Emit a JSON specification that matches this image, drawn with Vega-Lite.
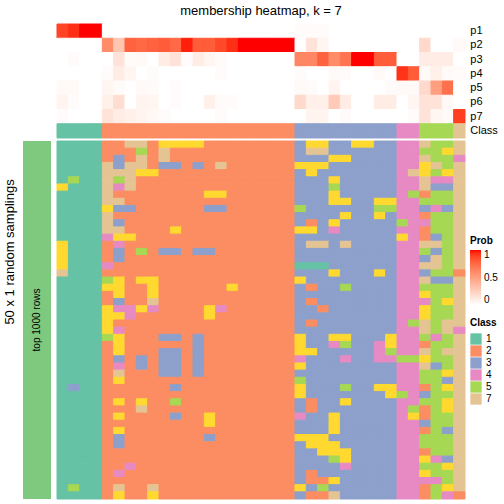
{
"$schema": "https://vega.github.io/schema/vega-lite/v6.json",
"width": 408, "height": 475,
"autosize": {"type": "none"},
"padding": {"left": 57, "top": 24, "right": 39, "bottom": 5},
"title": {"text": "membership heatmap, k = 7", "fontSize": 13, "fontWeight": "normal", "font": "Liberation Sans", "frame": "group", "anchor": "middle", "offset": 6, "color": "black"},
"config": {"view": {"stroke": null}, "font": "Liberation Sans"},
"datasets": {
"prob": [
{"p":"p1","c":0,"v":0.88},{"p":"p1","c":1,"v":0.94},{"p":"p1","c":2,"v":1},{"p":"p1","c":3,"v":1},{"p":"p1","c":4,"v":0},{"p":"p1","c":5,"v":0},{"p":"p1","c":6,"v":0},{"p":"p1","c":7,"v":0},{"p":"p1","c":8,"v":0},{"p":"p1","c":9,"v":0},{"p":"p1","c":10,"v":0},{"p":"p1","c":11,"v":0},{"p":"p1","c":12,"v":0},{"p":"p1","c":13,"v":0},{"p":"p1","c":14,"v":0},{"p":"p1","c":15,"v":0},{"p":"p1","c":16,"v":0},{"p":"p1","c":17,"v":0},{"p":"p1","c":18,"v":0},{"p":"p1","c":19,"v":0},{"p":"p1","c":20,"v":0},{"p":"p1","c":21,"v":0.02},{"p":"p1","c":22,"v":0.02},{"p":"p1","c":23,"v":0.02},{"p":"p1","c":24,"v":0},{"p":"p1","c":25,"v":0},{"p":"p1","c":26,"v":0},{"p":"p1","c":27,"v":0},{"p":"p1","c":28,"v":0},{"p":"p1","c":29,"v":0},{"p":"p1","c":30,"v":0},{"p":"p1","c":31,"v":0},{"p":"p1","c":32,"v":0},{"p":"p1","c":33,"v":0},{"p":"p1","c":34,"v":0},{"p":"p1","c":35,"v":0},
{"p":"p2","c":0,"v":0},{"p":"p2","c":1,"v":0},{"p":"p2","c":2,"v":0},{"p":"p2","c":3,"v":0},{"p":"p2","c":4,"v":0.6},{"p":"p2","c":5,"v":0.3},{"p":"p2","c":6,"v":0.78},{"p":"p2","c":7,"v":0.75},{"p":"p2","c":8,"v":0.78},{"p":"p2","c":9,"v":0.8},{"p":"p2","c":10,"v":0.75},{"p":"p2","c":11,"v":0.97},{"p":"p2","c":12,"v":0.8},{"p":"p2","c":13,"v":0.8},{"p":"p2","c":14,"v":0.87},{"p":"p2","c":15,"v":0.94},{"p":"p2","c":16,"v":1},{"p":"p2","c":17,"v":1},{"p":"p2","c":18,"v":1},{"p":"p2","c":19,"v":1},{"p":"p2","c":20,"v":1},{"p":"p2","c":21,"v":0},{"p":"p2","c":22,"v":0.15},{"p":"p2","c":23,"v":0.05},{"p":"p2","c":24,"v":0},{"p":"p2","c":25,"v":0},{"p":"p2","c":26,"v":0},{"p":"p2","c":27,"v":0},{"p":"p2","c":28,"v":0},{"p":"p2","c":29,"v":0},{"p":"p2","c":30,"v":0},{"p":"p2","c":31,"v":0},{"p":"p2","c":32,"v":0.2},{"p":"p2","c":33,"v":0},{"p":"p2","c":34,"v":0},{"p":"p2","c":35,"v":0.03},
{"p":"p3","c":0,"v":0},{"p":"p3","c":1,"v":0.02},{"p":"p3","c":2,"v":0},{"p":"p3","c":3,"v":0},{"p":"p3","c":4,"v":0},{"p":"p3","c":5,"v":0.15},{"p":"p3","c":6,"v":0.02},{"p":"p3","c":7,"v":0.03},{"p":"p3","c":8,"v":0},{"p":"p3","c":9,"v":0.1},{"p":"p3","c":10,"v":0.15},{"p":"p3","c":11,"v":0.02},{"p":"p3","c":12,"v":0.1},{"p":"p3","c":13,"v":0.05},{"p":"p3","c":14,"v":0.02},{"p":"p3","c":15,"v":0},{"p":"p3","c":16,"v":0},{"p":"p3","c":17,"v":0},{"p":"p3","c":18,"v":0},{"p":"p3","c":19,"v":0},{"p":"p3","c":20,"v":0},{"p":"p3","c":21,"v":0.62},{"p":"p3","c":22,"v":0.62},{"p":"p3","c":23,"v":0.78},{"p":"p3","c":24,"v":0.6},{"p":"p3","c":25,"v":0.7},{"p":"p3","c":26,"v":1},{"p":"p3","c":27,"v":1},{"p":"p3","c":28,"v":0.8},{"p":"p3","c":29,"v":0.8},{"p":"p3","c":30,"v":0},{"p":"p3","c":31,"v":0},{"p":"p3","c":32,"v":0.1},{"p":"p3","c":33,"v":0.1},{"p":"p3","c":34,"v":0.1},{"p":"p3","c":35,"v":0},
{"p":"p4","c":0,"v":0},{"p":"p4","c":1,"v":0},{"p":"p4","c":2,"v":0},{"p":"p4","c":3,"v":0},{"p":"p4","c":4,"v":0.02},{"p":"p4","c":5,"v":0.1},{"p":"p4","c":6,"v":0.05},{"p":"p4","c":7,"v":0},{"p":"p4","c":8,"v":0.02},{"p":"p4","c":9,"v":0},{"p":"p4","c":10,"v":0},{"p":"p4","c":11,"v":0},{"p":"p4","c":12,"v":0},{"p":"p4","c":13,"v":0},{"p":"p4","c":14,"v":0.02},{"p":"p4","c":15,"v":0},{"p":"p4","c":16,"v":0},{"p":"p4","c":17,"v":0},{"p":"p4","c":18,"v":0},{"p":"p4","c":19,"v":0},{"p":"p4","c":20,"v":0},{"p":"p4","c":21,"v":0.02},{"p":"p4","c":22,"v":0},{"p":"p4","c":23,"v":0},{"p":"p4","c":24,"v":0.03},{"p":"p4","c":25,"v":0.02},{"p":"p4","c":26,"v":0},{"p":"p4","c":27,"v":0},{"p":"p4","c":28,"v":0.03},{"p":"p4","c":29,"v":0},{"p":"p4","c":30,"v":0.93},{"p":"p4","c":31,"v":0.8},{"p":"p4","c":32,"v":0.03},{"p":"p4","c":33,"v":0.08},{"p":"p4","c":34,"v":0.03},{"p":"p4","c":35,"v":0.02},
{"p":"p5","c":0,"v":0.03},{"p":"p5","c":1,"v":0.03},{"p":"p5","c":2,"v":0},{"p":"p5","c":3,"v":0},{"p":"p5","c":4,"v":0.05},{"p":"p5","c":5,"v":0.02},{"p":"p5","c":6,"v":0},{"p":"p5","c":7,"v":0.03},{"p":"p5","c":8,"v":0.02},{"p":"p5","c":9,"v":0},{"p":"p5","c":10,"v":0.02},{"p":"p5","c":11,"v":0},{"p":"p5","c":12,"v":0},{"p":"p5","c":13,"v":0},{"p":"p5","c":14,"v":0},{"p":"p5","c":15,"v":0},{"p":"p5","c":16,"v":0},{"p":"p5","c":17,"v":0},{"p":"p5","c":18,"v":0},{"p":"p5","c":19,"v":0},{"p":"p5","c":20,"v":0},{"p":"p5","c":21,"v":0.03},{"p":"p5","c":22,"v":0.02},{"p":"p5","c":23,"v":0},{"p":"p5","c":24,"v":0.06},{"p":"p5","c":25,"v":0},{"p":"p5","c":26,"v":0},{"p":"p5","c":27,"v":0},{"p":"p5","c":28,"v":0},{"p":"p5","c":29,"v":0.02},{"p":"p5","c":30,"v":0.03},{"p":"p5","c":31,"v":0.03},{"p":"p5","c":32,"v":0.2},{"p":"p5","c":33,"v":0.5},{"p":"p5","c":34,"v":0.72},{"p":"p5","c":35,"v":0},
{"p":"p6","c":0,"v":0.06},{"p":"p6","c":1,"v":0.02},{"p":"p6","c":2,"v":0},{"p":"p6","c":3,"v":0},{"p":"p6","c":4,"v":0.08},{"p":"p6","c":5,"v":0.18},{"p":"p6","c":6,"v":0},{"p":"p6","c":7,"v":0.06},{"p":"p6","c":8,"v":0.05},{"p":"p6","c":9,"v":0},{"p":"p6","c":10,"v":0.02},{"p":"p6","c":11,"v":0},{"p":"p6","c":12,"v":0},{"p":"p6","c":13,"v":0.08},{"p":"p6","c":14,"v":0.02},{"p":"p6","c":15,"v":0.02},{"p":"p6","c":16,"v":0},{"p":"p6","c":17,"v":0},{"p":"p6","c":18,"v":0},{"p":"p6","c":19,"v":0},{"p":"p6","c":20,"v":0},{"p":"p6","c":21,"v":0.2},{"p":"p6","c":22,"v":0.08},{"p":"p6","c":23,"v":0.08},{"p":"p6","c":24,"v":0.28},{"p":"p6","c":25,"v":0.1},{"p":"p6","c":26,"v":0},{"p":"p6","c":27,"v":0},{"p":"p6","c":28,"v":0.1},{"p":"p6","c":29,"v":0.1},{"p":"p6","c":30,"v":0},{"p":"p6","c":31,"v":0.05},{"p":"p6","c":32,"v":0.15},{"p":"p6","c":33,"v":0.15},{"p":"p6","c":34,"v":0.03},{"p":"p6","c":35,"v":0},
{"p":"p7","c":0,"v":0.02},{"p":"p7","c":1,"v":0},{"p":"p7","c":2,"v":0},{"p":"p7","c":3,"v":0},{"p":"p7","c":4,"v":0.15},{"p":"p7","c":5,"v":0.1},{"p":"p7","c":6,"v":0.08},{"p":"p7","c":7,"v":0.06},{"p":"p7","c":8,"v":0.04},{"p":"p7","c":9,"v":0.02},{"p":"p7","c":10,"v":0},{"p":"p7","c":11,"v":0},{"p":"p7","c":12,"v":0},{"p":"p7","c":13,"v":0},{"p":"p7","c":14,"v":0.02},{"p":"p7","c":15,"v":0},{"p":"p7","c":16,"v":0},{"p":"p7","c":17,"v":0},{"p":"p7","c":18,"v":0},{"p":"p7","c":19,"v":0},{"p":"p7","c":20,"v":0},{"p":"p7","c":21,"v":0},{"p":"p7","c":22,"v":0.06},{"p":"p7","c":23,"v":0.06},{"p":"p7","c":24,"v":0},{"p":"p7","c":25,"v":0.02},{"p":"p7","c":26,"v":0},{"p":"p7","c":27,"v":0},{"p":"p7","c":28,"v":0},{"p":"p7","c":29,"v":0},{"p":"p7","c":30,"v":0},{"p":"p7","c":31,"v":0.02},{"p":"p7","c":32,"v":0.15},{"p":"p7","c":33,"v":0.05},{"p":"p7","c":34,"v":0.03},{"p":"p7","c":35,"v":0.9}
],
"anno": [
{"c":0,"k":1},{"c":1,"k":1},{"c":2,"k":1},{"c":3,"k":1},{"c":4,"k":2},{"c":5,"k":2},{"c":6,"k":2},{"c":7,"k":2},{"c":8,"k":2},{"c":9,"k":2},{"c":10,"k":2},{"c":11,"k":2},{"c":12,"k":2},{"c":13,"k":2},{"c":14,"k":2},{"c":15,"k":2},{"c":16,"k":2},{"c":17,"k":2},{"c":18,"k":2},{"c":19,"k":2},{"c":20,"k":2},{"c":21,"k":3},{"c":22,"k":3},{"c":23,"k":3},{"c":24,"k":3},{"c":25,"k":3},{"c":26,"k":3},{"c":27,"k":3},{"c":28,"k":3},{"c":29,"k":3},{"c":30,"k":4},{"c":31,"k":4},{"c":32,"k":5},{"c":33,"k":5},{"c":34,"k":5},{"c":35,"k":7}
],
"grid": [
{"r":0,"c":0,"k":1},{"r":0,"c":1,"k":1},{"r":0,"c":2,"k":1},{"r":0,"c":3,"k":1},{"r":0,"c":4,"k":2},{"r":0,"c":5,"k":2},{"r":0,"c":6,"k":7},{"r":0,"c":7,"k":7},{"r":0,"c":8,"k":2},{"r":0,"c":9,"k":6},{"r":0,"c":10,"k":6},{"r":0,"c":11,"k":6},{"r":0,"c":12,"k":6},{"r":0,"c":13,"k":2},{"r":0,"c":14,"k":2},{"r":0,"c":15,"k":2},{"r":0,"c":16,"k":2},{"r":0,"c":17,"k":2},{"r":0,"c":18,"k":2},{"r":0,"c":19,"k":2},{"r":0,"c":20,"k":2},{"r":0,"c":21,"k":3},{"r":0,"c":22,"k":6},{"r":0,"c":23,"k":6},{"r":0,"c":24,"k":3},{"r":0,"c":25,"k":3},{"r":0,"c":26,"k":6},{"r":0,"c":27,"k":6},{"r":0,"c":28,"k":3},{"r":0,"c":29,"k":3},{"r":0,"c":30,"k":4},{"r":0,"c":31,"k":4},{"r":0,"c":32,"k":7},{"r":0,"c":33,"k":5},{"r":0,"c":34,"k":5},{"r":0,"c":35,"k":7},
{"r":1,"c":0,"k":1},{"r":1,"c":1,"k":1},{"r":1,"c":2,"k":1},{"r":1,"c":3,"k":1},{"r":1,"c":4,"k":2},{"r":1,"c":5,"k":2},{"r":1,"c":6,"k":2},{"r":1,"c":7,"k":5},{"r":1,"c":8,"k":2},{"r":1,"c":9,"k":7},{"r":1,"c":10,"k":2},{"r":1,"c":11,"k":2},{"r":1,"c":12,"k":2},{"r":1,"c":13,"k":2},{"r":1,"c":14,"k":2},{"r":1,"c":15,"k":2},{"r":1,"c":16,"k":2},{"r":1,"c":17,"k":2},{"r":1,"c":18,"k":2},{"r":1,"c":19,"k":2},{"r":1,"c":20,"k":2},{"r":1,"c":21,"k":3},{"r":1,"c":22,"k":7},{"r":1,"c":23,"k":7},{"r":1,"c":24,"k":3},{"r":1,"c":25,"k":3},{"r":1,"c":26,"k":3},{"r":1,"c":27,"k":3},{"r":1,"c":28,"k":3},{"r":1,"c":29,"k":3},{"r":1,"c":30,"k":4},{"r":1,"c":31,"k":4},{"r":1,"c":32,"k":5},{"r":1,"c":33,"k":5},{"r":1,"c":34,"k":6},{"r":1,"c":35,"k":7},
{"r":2,"c":0,"k":1},{"r":2,"c":1,"k":1},{"r":2,"c":2,"k":1},{"r":2,"c":3,"k":1},{"r":2,"c":4,"k":2},{"r":2,"c":5,"k":3},{"r":2,"c":6,"k":2},{"r":2,"c":7,"k":7},{"r":2,"c":8,"k":2},{"r":2,"c":9,"k":7},{"r":2,"c":10,"k":2},{"r":2,"c":11,"k":2},{"r":2,"c":12,"k":2},{"r":2,"c":13,"k":2},{"r":2,"c":14,"k":2},{"r":2,"c":15,"k":2},{"r":2,"c":16,"k":2},{"r":2,"c":17,"k":2},{"r":2,"c":18,"k":2},{"r":2,"c":19,"k":2},{"r":2,"c":20,"k":2},{"r":2,"c":21,"k":3},{"r":2,"c":22,"k":3},{"r":2,"c":23,"k":3},{"r":2,"c":24,"k":6},{"r":2,"c":25,"k":6},{"r":2,"c":26,"k":3},{"r":2,"c":27,"k":3},{"r":2,"c":28,"k":3},{"r":2,"c":29,"k":3},{"r":2,"c":30,"k":4},{"r":2,"c":31,"k":4},{"r":2,"c":32,"k":7},{"r":2,"c":33,"k":5},{"r":2,"c":34,"k":5},{"r":2,"c":35,"k":4},
{"r":3,"c":0,"k":1},{"r":3,"c":1,"k":1},{"r":3,"c":2,"k":1},{"r":3,"c":3,"k":1},{"r":3,"c":4,"k":7},{"r":3,"c":5,"k":3},{"r":3,"c":6,"k":7},{"r":3,"c":7,"k":7},{"r":3,"c":8,"k":2},{"r":3,"c":9,"k":3},{"r":3,"c":10,"k":3},{"r":3,"c":11,"k":2},{"r":3,"c":12,"k":3},{"r":3,"c":13,"k":2},{"r":3,"c":14,"k":7},{"r":3,"c":15,"k":2},{"r":3,"c":16,"k":2},{"r":3,"c":17,"k":2},{"r":3,"c":18,"k":2},{"r":3,"c":19,"k":2},{"r":3,"c":20,"k":2},{"r":3,"c":21,"k":6},{"r":3,"c":22,"k":6},{"r":3,"c":23,"k":6},{"r":3,"c":24,"k":3},{"r":3,"c":25,"k":3},{"r":3,"c":26,"k":3},{"r":3,"c":27,"k":3},{"r":3,"c":28,"k":3},{"r":3,"c":29,"k":3},{"r":3,"c":30,"k":4},{"r":3,"c":31,"k":4},{"r":3,"c":32,"k":6},{"r":3,"c":33,"k":7},{"r":3,"c":34,"k":5},{"r":3,"c":35,"k":7},
{"r":4,"c":0,"k":1},{"r":4,"c":1,"k":1},{"r":4,"c":2,"k":1},{"r":4,"c":3,"k":1},{"r":4,"c":4,"k":7},{"r":4,"c":5,"k":7},{"r":4,"c":6,"k":7},{"r":4,"c":7,"k":6},{"r":4,"c":8,"k":6},{"r":4,"c":9,"k":2},{"r":4,"c":10,"k":2},{"r":4,"c":11,"k":2},{"r":4,"c":12,"k":2},{"r":4,"c":13,"k":2},{"r":4,"c":14,"k":2},{"r":4,"c":15,"k":2},{"r":4,"c":16,"k":2},{"r":4,"c":17,"k":2},{"r":4,"c":18,"k":2},{"r":4,"c":19,"k":2},{"r":4,"c":20,"k":2},{"r":4,"c":21,"k":3},{"r":4,"c":22,"k":6},{"r":4,"c":23,"k":3},{"r":4,"c":24,"k":3},{"r":4,"c":25,"k":3},{"r":4,"c":26,"k":3},{"r":4,"c":27,"k":3},{"r":4,"c":28,"k":3},{"r":4,"c":29,"k":3},{"r":4,"c":30,"k":4},{"r":4,"c":31,"k":7},{"r":4,"c":32,"k":6},{"r":4,"c":33,"k":5},{"r":4,"c":34,"k":6},{"r":4,"c":35,"k":7},
{"r":5,"c":0,"k":1},{"r":5,"c":1,"k":5},{"r":5,"c":2,"k":1},{"r":5,"c":3,"k":1},{"r":5,"c":4,"k":7},{"r":5,"c":5,"k":5},{"r":5,"c":6,"k":7},{"r":5,"c":7,"k":2},{"r":5,"c":8,"k":2},{"r":5,"c":9,"k":2},{"r":5,"c":10,"k":2},{"r":5,"c":11,"k":2},{"r":5,"c":12,"k":2},{"r":5,"c":13,"k":2},{"r":5,"c":14,"k":2},{"r":5,"c":15,"k":2},{"r":5,"c":16,"k":2},{"r":5,"c":17,"k":2},{"r":5,"c":18,"k":2},{"r":5,"c":19,"k":2},{"r":5,"c":20,"k":2},{"r":5,"c":21,"k":3},{"r":5,"c":22,"k":3},{"r":5,"c":23,"k":3},{"r":5,"c":24,"k":6},{"r":5,"c":25,"k":3},{"r":5,"c":26,"k":3},{"r":5,"c":27,"k":3},{"r":5,"c":28,"k":3},{"r":5,"c":29,"k":3},{"r":5,"c":30,"k":4},{"r":5,"c":31,"k":4},{"r":5,"c":32,"k":7},{"r":5,"c":33,"k":4},{"r":5,"c":34,"k":4},{"r":5,"c":35,"k":7},
{"r":6,"c":0,"k":6},{"r":6,"c":1,"k":1},{"r":6,"c":2,"k":1},{"r":6,"c":3,"k":1},{"r":6,"c":4,"k":7},{"r":6,"c":5,"k":4},{"r":6,"c":6,"k":7},{"r":6,"c":7,"k":2},{"r":6,"c":8,"k":2},{"r":6,"c":9,"k":2},{"r":6,"c":10,"k":2},{"r":6,"c":11,"k":2},{"r":6,"c":12,"k":2},{"r":6,"c":13,"k":2},{"r":6,"c":14,"k":2},{"r":6,"c":15,"k":2},{"r":6,"c":16,"k":2},{"r":6,"c":17,"k":2},{"r":6,"c":18,"k":2},{"r":6,"c":19,"k":2},{"r":6,"c":20,"k":2},{"r":6,"c":21,"k":3},{"r":6,"c":22,"k":3},{"r":6,"c":23,"k":3},{"r":6,"c":24,"k":5},{"r":6,"c":25,"k":3},{"r":6,"c":26,"k":3},{"r":6,"c":27,"k":3},{"r":6,"c":28,"k":3},{"r":6,"c":29,"k":3},{"r":6,"c":30,"k":4},{"r":6,"c":31,"k":4},{"r":6,"c":32,"k":7},{"r":6,"c":33,"k":3},{"r":6,"c":34,"k":3},{"r":6,"c":35,"k":7},
{"r":7,"c":0,"k":1},{"r":7,"c":1,"k":1},{"r":7,"c":2,"k":1},{"r":7,"c":3,"k":1},{"r":7,"c":4,"k":7},{"r":7,"c":5,"k":2},{"r":7,"c":6,"k":2},{"r":7,"c":7,"k":2},{"r":7,"c":8,"k":2},{"r":7,"c":9,"k":2},{"r":7,"c":10,"k":2},{"r":7,"c":11,"k":2},{"r":7,"c":12,"k":2},{"r":7,"c":13,"k":6},{"r":7,"c":14,"k":6},{"r":7,"c":15,"k":2},{"r":7,"c":16,"k":2},{"r":7,"c":17,"k":2},{"r":7,"c":18,"k":2},{"r":7,"c":19,"k":2},{"r":7,"c":20,"k":2},{"r":7,"c":21,"k":3},{"r":7,"c":22,"k":3},{"r":7,"c":23,"k":3},{"r":7,"c":24,"k":6},{"r":7,"c":25,"k":3},{"r":7,"c":26,"k":3},{"r":7,"c":27,"k":3},{"r":7,"c":28,"k":3},{"r":7,"c":29,"k":3},{"r":7,"c":30,"k":4},{"r":7,"c":31,"k":5},{"r":7,"c":32,"k":2},{"r":7,"c":33,"k":5},{"r":7,"c":34,"k":5},{"r":7,"c":35,"k":7},
{"r":8,"c":0,"k":1},{"r":8,"c":1,"k":1},{"r":8,"c":2,"k":1},{"r":8,"c":3,"k":1},{"r":8,"c":4,"k":7},{"r":8,"c":5,"k":7},{"r":8,"c":6,"k":2},{"r":8,"c":7,"k":2},{"r":8,"c":8,"k":2},{"r":8,"c":9,"k":2},{"r":8,"c":10,"k":2},{"r":8,"c":11,"k":2},{"r":8,"c":12,"k":2},{"r":8,"c":13,"k":2},{"r":8,"c":14,"k":2},{"r":8,"c":15,"k":2},{"r":8,"c":16,"k":2},{"r":8,"c":17,"k":2},{"r":8,"c":18,"k":2},{"r":8,"c":19,"k":2},{"r":8,"c":20,"k":2},{"r":8,"c":21,"k":3},{"r":8,"c":22,"k":3},{"r":8,"c":23,"k":3},{"r":8,"c":24,"k":6},{"r":8,"c":25,"k":6},{"r":8,"c":26,"k":3},{"r":8,"c":27,"k":3},{"r":8,"c":28,"k":6},{"r":8,"c":29,"k":6},{"r":8,"c":30,"k":4},{"r":8,"c":31,"k":4},{"r":8,"c":32,"k":5},{"r":8,"c":33,"k":5},{"r":8,"c":34,"k":5},{"r":8,"c":35,"k":7},
{"r":9,"c":0,"k":1},{"r":9,"c":1,"k":1},{"r":9,"c":2,"k":1},{"r":9,"c":3,"k":1},{"r":9,"c":4,"k":6},{"r":9,"c":5,"k":3},{"r":9,"c":6,"k":3},{"r":9,"c":7,"k":2},{"r":9,"c":8,"k":2},{"r":9,"c":9,"k":2},{"r":9,"c":10,"k":2},{"r":9,"c":11,"k":2},{"r":9,"c":12,"k":2},{"r":9,"c":13,"k":3},{"r":9,"c":14,"k":3},{"r":9,"c":15,"k":2},{"r":9,"c":16,"k":2},{"r":9,"c":17,"k":2},{"r":9,"c":18,"k":2},{"r":9,"c":19,"k":2},{"r":9,"c":20,"k":2},{"r":9,"c":21,"k":5},{"r":9,"c":22,"k":3},{"r":9,"c":23,"k":3},{"r":9,"c":24,"k":3},{"r":9,"c":25,"k":3},{"r":9,"c":26,"k":3},{"r":9,"c":27,"k":3},{"r":9,"c":28,"k":5},{"r":9,"c":29,"k":5},{"r":9,"c":30,"k":4},{"r":9,"c":31,"k":4},{"r":9,"c":32,"k":3},{"r":9,"c":33,"k":4},{"r":9,"c":34,"k":3},{"r":9,"c":35,"k":7},
{"r":10,"c":0,"k":1},{"r":10,"c":1,"k":1},{"r":10,"c":2,"k":1},{"r":10,"c":3,"k":1},{"r":10,"c":4,"k":7},{"r":10,"c":5,"k":2},{"r":10,"c":6,"k":2},{"r":10,"c":7,"k":2},{"r":10,"c":8,"k":2},{"r":10,"c":9,"k":2},{"r":10,"c":10,"k":2},{"r":10,"c":11,"k":2},{"r":10,"c":12,"k":2},{"r":10,"c":13,"k":2},{"r":10,"c":14,"k":2},{"r":10,"c":15,"k":2},{"r":10,"c":16,"k":2},{"r":10,"c":17,"k":2},{"r":10,"c":18,"k":2},{"r":10,"c":19,"k":2},{"r":10,"c":20,"k":2},{"r":10,"c":21,"k":3},{"r":10,"c":22,"k":3},{"r":10,"c":23,"k":3},{"r":10,"c":24,"k":3},{"r":10,"c":25,"k":6},{"r":10,"c":26,"k":3},{"r":10,"c":27,"k":3},{"r":10,"c":28,"k":6},{"r":10,"c":29,"k":3},{"r":10,"c":30,"k":4},{"r":10,"c":31,"k":4},{"r":10,"c":32,"k":2},{"r":10,"c":33,"k":5},{"r":10,"c":34,"k":5},{"r":10,"c":35,"k":7},
{"r":11,"c":0,"k":1},{"r":11,"c":1,"k":1},{"r":11,"c":2,"k":1},{"r":11,"c":3,"k":1},{"r":11,"c":4,"k":7},{"r":11,"c":5,"k":3},{"r":11,"c":6,"k":2},{"r":11,"c":7,"k":2},{"r":11,"c":8,"k":2},{"r":11,"c":9,"k":2},{"r":11,"c":10,"k":2},{"r":11,"c":11,"k":2},{"r":11,"c":12,"k":2},{"r":11,"c":13,"k":2},{"r":11,"c":14,"k":2},{"r":11,"c":15,"k":2},{"r":11,"c":16,"k":2},{"r":11,"c":17,"k":2},{"r":11,"c":18,"k":2},{"r":11,"c":19,"k":2},{"r":11,"c":20,"k":2},{"r":11,"c":21,"k":3},{"r":11,"c":22,"k":2},{"r":11,"c":23,"k":3},{"r":11,"c":24,"k":6},{"r":11,"c":25,"k":3},{"r":11,"c":26,"k":3},{"r":11,"c":27,"k":3},{"r":11,"c":28,"k":3},{"r":11,"c":29,"k":3},{"r":11,"c":30,"k":5},{"r":11,"c":31,"k":4},{"r":11,"c":32,"k":4},{"r":11,"c":33,"k":5},{"r":11,"c":34,"k":5},{"r":11,"c":35,"k":7},
{"r":12,"c":0,"k":1},{"r":12,"c":1,"k":1},{"r":12,"c":2,"k":1},{"r":12,"c":3,"k":1},{"r":12,"c":4,"k":7},{"r":12,"c":5,"k":7},{"r":12,"c":6,"k":2},{"r":12,"c":7,"k":2},{"r":12,"c":8,"k":2},{"r":12,"c":9,"k":2},{"r":12,"c":10,"k":6},{"r":12,"c":11,"k":2},{"r":12,"c":12,"k":2},{"r":12,"c":13,"k":2},{"r":12,"c":14,"k":2},{"r":12,"c":15,"k":2},{"r":12,"c":16,"k":2},{"r":12,"c":17,"k":2},{"r":12,"c":18,"k":2},{"r":12,"c":19,"k":2},{"r":12,"c":20,"k":2},{"r":12,"c":21,"k":6},{"r":12,"c":22,"k":6},{"r":12,"c":23,"k":3},{"r":12,"c":24,"k":4},{"r":12,"c":25,"k":3},{"r":12,"c":26,"k":3},{"r":12,"c":27,"k":3},{"r":12,"c":28,"k":3},{"r":12,"c":29,"k":3},{"r":12,"c":30,"k":4},{"r":12,"c":31,"k":4},{"r":12,"c":32,"k":2},{"r":12,"c":33,"k":5},{"r":12,"c":34,"k":5},{"r":12,"c":35,"k":7},
{"r":13,"c":0,"k":1},{"r":13,"c":1,"k":1},{"r":13,"c":2,"k":1},{"r":13,"c":3,"k":1},{"r":13,"c":4,"k":4},{"r":13,"c":5,"k":6},{"r":13,"c":6,"k":6},{"r":13,"c":7,"k":2},{"r":13,"c":8,"k":2},{"r":13,"c":9,"k":2},{"r":13,"c":10,"k":2},{"r":13,"c":11,"k":2},{"r":13,"c":12,"k":2},{"r":13,"c":13,"k":2},{"r":13,"c":14,"k":2},{"r":13,"c":15,"k":2},{"r":13,"c":16,"k":2},{"r":13,"c":17,"k":2},{"r":13,"c":18,"k":2},{"r":13,"c":19,"k":2},{"r":13,"c":20,"k":2},{"r":13,"c":21,"k":3},{"r":13,"c":22,"k":3},{"r":13,"c":23,"k":3},{"r":13,"c":24,"k":3},{"r":13,"c":25,"k":3},{"r":13,"c":26,"k":3},{"r":13,"c":27,"k":3},{"r":13,"c":28,"k":3},{"r":13,"c":29,"k":3},{"r":13,"c":30,"k":6},{"r":13,"c":31,"k":4},{"r":13,"c":32,"k":2},{"r":13,"c":33,"k":3},{"r":13,"c":34,"k":5},{"r":13,"c":35,"k":7},
{"r":14,"c":0,"k":6},{"r":14,"c":1,"k":1},{"r":14,"c":2,"k":1},{"r":14,"c":3,"k":1},{"r":14,"c":4,"k":2},{"r":14,"c":5,"k":4},{"r":14,"c":6,"k":2},{"r":14,"c":7,"k":2},{"r":14,"c":8,"k":2},{"r":14,"c":9,"k":2},{"r":14,"c":10,"k":2},{"r":14,"c":11,"k":2},{"r":14,"c":12,"k":2},{"r":14,"c":13,"k":2},{"r":14,"c":14,"k":2},{"r":14,"c":15,"k":2},{"r":14,"c":16,"k":2},{"r":14,"c":17,"k":2},{"r":14,"c":18,"k":2},{"r":14,"c":19,"k":2},{"r":14,"c":20,"k":2},{"r":14,"c":21,"k":3},{"r":14,"c":22,"k":7},{"r":14,"c":23,"k":7},{"r":14,"c":24,"k":3},{"r":14,"c":25,"k":7},{"r":14,"c":26,"k":3},{"r":14,"c":27,"k":3},{"r":14,"c":28,"k":3},{"r":14,"c":29,"k":3},{"r":14,"c":30,"k":4},{"r":14,"c":31,"k":4},{"r":14,"c":32,"k":7},{"r":14,"c":33,"k":7},{"r":14,"c":34,"k":5},{"r":14,"c":35,"k":7},
{"r":15,"c":0,"k":6},{"r":15,"c":1,"k":1},{"r":15,"c":2,"k":1},{"r":15,"c":3,"k":1},{"r":15,"c":4,"k":2},{"r":15,"c":5,"k":3},{"r":15,"c":6,"k":2},{"r":15,"c":7,"k":5},{"r":15,"c":8,"k":2},{"r":15,"c":9,"k":3},{"r":15,"c":10,"k":3},{"r":15,"c":11,"k":2},{"r":15,"c":12,"k":3},{"r":15,"c":13,"k":3},{"r":15,"c":14,"k":2},{"r":15,"c":15,"k":2},{"r":15,"c":16,"k":2},{"r":15,"c":17,"k":2},{"r":15,"c":18,"k":2},{"r":15,"c":19,"k":2},{"r":15,"c":20,"k":2},{"r":15,"c":21,"k":3},{"r":15,"c":22,"k":3},{"r":15,"c":23,"k":3},{"r":15,"c":24,"k":3},{"r":15,"c":25,"k":3},{"r":15,"c":26,"k":3},{"r":15,"c":27,"k":3},{"r":15,"c":28,"k":3},{"r":15,"c":29,"k":3},{"r":15,"c":30,"k":4},{"r":15,"c":31,"k":4},{"r":15,"c":32,"k":5},{"r":15,"c":33,"k":3},{"r":15,"c":34,"k":5},{"r":15,"c":35,"k":7},
{"r":16,"c":0,"k":6},{"r":16,"c":1,"k":1},{"r":16,"c":2,"k":1},{"r":16,"c":3,"k":1},{"r":16,"c":4,"k":2},{"r":16,"c":5,"k":3},{"r":16,"c":6,"k":2},{"r":16,"c":7,"k":2},{"r":16,"c":8,"k":2},{"r":16,"c":9,"k":2},{"r":16,"c":10,"k":2},{"r":16,"c":11,"k":2},{"r":16,"c":12,"k":2},{"r":16,"c":13,"k":2},{"r":16,"c":14,"k":2},{"r":16,"c":15,"k":2},{"r":16,"c":16,"k":2},{"r":16,"c":17,"k":2},{"r":16,"c":18,"k":2},{"r":16,"c":19,"k":2},{"r":16,"c":20,"k":2},{"r":16,"c":21,"k":3},{"r":16,"c":22,"k":3},{"r":16,"c":23,"k":3},{"r":16,"c":24,"k":3},{"r":16,"c":25,"k":3},{"r":16,"c":26,"k":3},{"r":16,"c":27,"k":3},{"r":16,"c":28,"k":3},{"r":16,"c":29,"k":3},{"r":16,"c":30,"k":4},{"r":16,"c":31,"k":4},{"r":16,"c":32,"k":3},{"r":16,"c":33,"k":7},{"r":16,"c":34,"k":5},{"r":16,"c":35,"k":7},
{"r":17,"c":0,"k":6},{"r":17,"c":1,"k":1},{"r":17,"c":2,"k":1},{"r":17,"c":3,"k":1},{"r":17,"c":4,"k":4},{"r":17,"c":5,"k":2},{"r":17,"c":6,"k":2},{"r":17,"c":7,"k":2},{"r":17,"c":8,"k":2},{"r":17,"c":9,"k":2},{"r":17,"c":10,"k":2},{"r":17,"c":11,"k":2},{"r":17,"c":12,"k":2},{"r":17,"c":13,"k":2},{"r":17,"c":14,"k":2},{"r":17,"c":15,"k":2},{"r":17,"c":16,"k":2},{"r":17,"c":17,"k":2},{"r":17,"c":18,"k":2},{"r":17,"c":19,"k":2},{"r":17,"c":20,"k":2},{"r":17,"c":21,"k":1},{"r":17,"c":22,"k":1},{"r":17,"c":23,"k":1},{"r":17,"c":24,"k":3},{"r":17,"c":25,"k":3},{"r":17,"c":26,"k":3},{"r":17,"c":27,"k":3},{"r":17,"c":28,"k":3},{"r":17,"c":29,"k":3},{"r":17,"c":30,"k":4},{"r":17,"c":31,"k":4},{"r":17,"c":32,"k":7},{"r":17,"c":33,"k":7},{"r":17,"c":34,"k":5},{"r":17,"c":35,"k":7},
{"r":18,"c":0,"k":7},{"r":18,"c":1,"k":1},{"r":18,"c":2,"k":1},{"r":18,"c":3,"k":1},{"r":18,"c":4,"k":2},{"r":18,"c":5,"k":2},{"r":18,"c":6,"k":2},{"r":18,"c":7,"k":2},{"r":18,"c":8,"k":2},{"r":18,"c":9,"k":2},{"r":18,"c":10,"k":2},{"r":18,"c":11,"k":2},{"r":18,"c":12,"k":2},{"r":18,"c":13,"k":2},{"r":18,"c":14,"k":2},{"r":18,"c":15,"k":2},{"r":18,"c":16,"k":2},{"r":18,"c":17,"k":2},{"r":18,"c":18,"k":2},{"r":18,"c":19,"k":2},{"r":18,"c":20,"k":2},{"r":18,"c":21,"k":3},{"r":18,"c":22,"k":3},{"r":18,"c":23,"k":3},{"r":18,"c":24,"k":6},{"r":18,"c":25,"k":3},{"r":18,"c":26,"k":3},{"r":18,"c":27,"k":3},{"r":18,"c":28,"k":6},{"r":18,"c":29,"k":3},{"r":18,"c":30,"k":4},{"r":18,"c":31,"k":4},{"r":18,"c":32,"k":3},{"r":18,"c":33,"k":5},{"r":18,"c":34,"k":5},{"r":18,"c":35,"k":2},
{"r":19,"c":0,"k":1},{"r":19,"c":1,"k":1},{"r":19,"c":2,"k":1},{"r":19,"c":3,"k":1},{"r":19,"c":4,"k":5},{"r":19,"c":5,"k":6},{"r":19,"c":6,"k":2},{"r":19,"c":7,"k":6},{"r":19,"c":8,"k":6},{"r":19,"c":9,"k":2},{"r":19,"c":10,"k":2},{"r":19,"c":11,"k":2},{"r":19,"c":12,"k":2},{"r":19,"c":13,"k":2},{"r":19,"c":14,"k":2},{"r":19,"c":15,"k":2},{"r":19,"c":16,"k":2},{"r":19,"c":17,"k":2},{"r":19,"c":18,"k":2},{"r":19,"c":19,"k":2},{"r":19,"c":20,"k":2},{"r":19,"c":21,"k":6},{"r":19,"c":22,"k":3},{"r":19,"c":23,"k":3},{"r":19,"c":24,"k":3},{"r":19,"c":25,"k":3},{"r":19,"c":26,"k":3},{"r":19,"c":27,"k":3},{"r":19,"c":28,"k":3},{"r":19,"c":29,"k":3},{"r":19,"c":30,"k":4},{"r":19,"c":31,"k":4},{"r":19,"c":32,"k":7},{"r":19,"c":33,"k":3},{"r":19,"c":34,"k":3},{"r":19,"c":35,"k":7},
{"r":20,"c":0,"k":1},{"r":20,"c":1,"k":1},{"r":20,"c":2,"k":1},{"r":20,"c":3,"k":1},{"r":20,"c":4,"k":6},{"r":20,"c":5,"k":6},{"r":20,"c":6,"k":2},{"r":20,"c":7,"k":2},{"r":20,"c":8,"k":6},{"r":20,"c":9,"k":2},{"r":20,"c":10,"k":2},{"r":20,"c":11,"k":2},{"r":20,"c":12,"k":2},{"r":20,"c":13,"k":2},{"r":20,"c":14,"k":2},{"r":20,"c":15,"k":6},{"r":20,"c":16,"k":2},{"r":20,"c":17,"k":2},{"r":20,"c":18,"k":2},{"r":20,"c":19,"k":2},{"r":20,"c":20,"k":2},{"r":20,"c":21,"k":3},{"r":20,"c":22,"k":2},{"r":20,"c":23,"k":3},{"r":20,"c":24,"k":3},{"r":20,"c":25,"k":5},{"r":20,"c":26,"k":3},{"r":20,"c":27,"k":3},{"r":20,"c":28,"k":3},{"r":20,"c":29,"k":3},{"r":20,"c":30,"k":4},{"r":20,"c":31,"k":4},{"r":20,"c":32,"k":5},{"r":20,"c":33,"k":5},{"r":20,"c":34,"k":5},{"r":20,"c":35,"k":7},
{"r":21,"c":0,"k":1},{"r":21,"c":1,"k":1},{"r":21,"c":2,"k":1},{"r":21,"c":3,"k":1},{"r":21,"c":4,"k":2},{"r":21,"c":5,"k":6},{"r":21,"c":6,"k":2},{"r":21,"c":7,"k":2},{"r":21,"c":8,"k":6},{"r":21,"c":9,"k":2},{"r":21,"c":10,"k":2},{"r":21,"c":11,"k":2},{"r":21,"c":12,"k":2},{"r":21,"c":13,"k":2},{"r":21,"c":14,"k":2},{"r":21,"c":15,"k":2},{"r":21,"c":16,"k":2},{"r":21,"c":17,"k":2},{"r":21,"c":18,"k":2},{"r":21,"c":19,"k":2},{"r":21,"c":20,"k":2},{"r":21,"c":21,"k":3},{"r":21,"c":22,"k":3},{"r":21,"c":23,"k":3},{"r":21,"c":24,"k":3},{"r":21,"c":25,"k":3},{"r":21,"c":26,"k":3},{"r":21,"c":27,"k":3},{"r":21,"c":28,"k":3},{"r":21,"c":29,"k":3},{"r":21,"c":30,"k":4},{"r":21,"c":31,"k":4},{"r":21,"c":32,"k":6},{"r":21,"c":33,"k":5},{"r":21,"c":34,"k":5},{"r":21,"c":35,"k":7},
{"r":22,"c":0,"k":1},{"r":22,"c":1,"k":1},{"r":22,"c":2,"k":1},{"r":22,"c":3,"k":1},{"r":22,"c":4,"k":2},{"r":22,"c":5,"k":3},{"r":22,"c":6,"k":2},{"r":22,"c":7,"k":2},{"r":22,"c":8,"k":7},{"r":22,"c":9,"k":2},{"r":22,"c":10,"k":2},{"r":22,"c":11,"k":2},{"r":22,"c":12,"k":2},{"r":22,"c":13,"k":2},{"r":22,"c":14,"k":2},{"r":22,"c":15,"k":2},{"r":22,"c":16,"k":2},{"r":22,"c":17,"k":2},{"r":22,"c":18,"k":2},{"r":22,"c":19,"k":2},{"r":22,"c":20,"k":2},{"r":22,"c":21,"k":3},{"r":22,"c":22,"k":2},{"r":22,"c":23,"k":3},{"r":22,"c":24,"k":3},{"r":22,"c":25,"k":3},{"r":22,"c":26,"k":3},{"r":22,"c":27,"k":3},{"r":22,"c":28,"k":3},{"r":22,"c":29,"k":3},{"r":22,"c":30,"k":4},{"r":22,"c":31,"k":4},{"r":22,"c":32,"k":4},{"r":22,"c":33,"k":5},{"r":22,"c":34,"k":6},{"r":22,"c":35,"k":7},
{"r":23,"c":0,"k":1},{"r":23,"c":1,"k":1},{"r":23,"c":2,"k":1},{"r":23,"c":3,"k":1},{"r":23,"c":4,"k":6},{"r":23,"c":5,"k":4},{"r":23,"c":6,"k":4},{"r":23,"c":7,"k":6},{"r":23,"c":8,"k":4},{"r":23,"c":9,"k":2},{"r":23,"c":10,"k":2},{"r":23,"c":11,"k":2},{"r":23,"c":12,"k":2},{"r":23,"c":13,"k":6},{"r":23,"c":14,"k":4},{"r":23,"c":15,"k":2},{"r":23,"c":16,"k":2},{"r":23,"c":17,"k":2},{"r":23,"c":18,"k":2},{"r":23,"c":19,"k":2},{"r":23,"c":20,"k":2},{"r":23,"c":21,"k":3},{"r":23,"c":22,"k":3},{"r":23,"c":23,"k":2},{"r":23,"c":24,"k":3},{"r":23,"c":25,"k":3},{"r":23,"c":26,"k":3},{"r":23,"c":27,"k":3},{"r":23,"c":28,"k":3},{"r":23,"c":29,"k":3},{"r":23,"c":30,"k":4},{"r":23,"c":31,"k":4},{"r":23,"c":32,"k":6},{"r":23,"c":33,"k":5},{"r":23,"c":34,"k":5},{"r":23,"c":35,"k":7},
{"r":24,"c":0,"k":1},{"r":24,"c":1,"k":1},{"r":24,"c":2,"k":1},{"r":24,"c":3,"k":1},{"r":24,"c":4,"k":6},{"r":24,"c":5,"k":6},{"r":24,"c":6,"k":4},{"r":24,"c":7,"k":2},{"r":24,"c":8,"k":2},{"r":24,"c":9,"k":2},{"r":24,"c":10,"k":2},{"r":24,"c":11,"k":2},{"r":24,"c":12,"k":2},{"r":24,"c":13,"k":6},{"r":24,"c":14,"k":2},{"r":24,"c":15,"k":2},{"r":24,"c":16,"k":2},{"r":24,"c":17,"k":2},{"r":24,"c":18,"k":2},{"r":24,"c":19,"k":2},{"r":24,"c":20,"k":2},{"r":24,"c":21,"k":3},{"r":24,"c":22,"k":3},{"r":24,"c":23,"k":3},{"r":24,"c":24,"k":3},{"r":24,"c":25,"k":3},{"r":24,"c":26,"k":3},{"r":24,"c":27,"k":3},{"r":24,"c":28,"k":3},{"r":24,"c":29,"k":3},{"r":24,"c":30,"k":4},{"r":24,"c":31,"k":4},{"r":24,"c":32,"k":6},{"r":24,"c":33,"k":5},{"r":24,"c":34,"k":5},{"r":24,"c":35,"k":7},
{"r":25,"c":0,"k":1},{"r":25,"c":1,"k":1},{"r":25,"c":2,"k":1},{"r":25,"c":3,"k":1},{"r":25,"c":4,"k":6},{"r":25,"c":5,"k":2},{"r":25,"c":6,"k":2},{"r":25,"c":7,"k":2},{"r":25,"c":8,"k":2},{"r":25,"c":9,"k":2},{"r":25,"c":10,"k":2},{"r":25,"c":11,"k":2},{"r":25,"c":12,"k":2},{"r":25,"c":13,"k":2},{"r":25,"c":14,"k":2},{"r":25,"c":15,"k":2},{"r":25,"c":16,"k":2},{"r":25,"c":17,"k":2},{"r":25,"c":18,"k":2},{"r":25,"c":19,"k":2},{"r":25,"c":20,"k":2},{"r":25,"c":21,"k":3},{"r":25,"c":22,"k":2},{"r":25,"c":23,"k":3},{"r":25,"c":24,"k":3},{"r":25,"c":25,"k":3},{"r":25,"c":26,"k":3},{"r":25,"c":27,"k":3},{"r":25,"c":28,"k":3},{"r":25,"c":29,"k":3},{"r":25,"c":30,"k":4},{"r":25,"c":31,"k":5},{"r":25,"c":32,"k":7},{"r":25,"c":33,"k":5},{"r":25,"c":34,"k":7},{"r":25,"c":35,"k":7},
{"r":26,"c":0,"k":1},{"r":26,"c":1,"k":1},{"r":26,"c":2,"k":1},{"r":26,"c":3,"k":1},{"r":26,"c":4,"k":6},{"r":26,"c":5,"k":4},{"r":26,"c":6,"k":2},{"r":26,"c":7,"k":2},{"r":26,"c":8,"k":2},{"r":26,"c":9,"k":2},{"r":26,"c":10,"k":2},{"r":26,"c":11,"k":2},{"r":26,"c":12,"k":2},{"r":26,"c":13,"k":2},{"r":26,"c":14,"k":2},{"r":26,"c":15,"k":2},{"r":26,"c":16,"k":2},{"r":26,"c":17,"k":2},{"r":26,"c":18,"k":2},{"r":26,"c":19,"k":2},{"r":26,"c":20,"k":2},{"r":26,"c":21,"k":3},{"r":26,"c":22,"k":3},{"r":26,"c":23,"k":3},{"r":26,"c":24,"k":3},{"r":26,"c":25,"k":3},{"r":26,"c":26,"k":3},{"r":26,"c":27,"k":3},{"r":26,"c":28,"k":3},{"r":26,"c":29,"k":3},{"r":26,"c":30,"k":4},{"r":26,"c":31,"k":4},{"r":26,"c":32,"k":7},{"r":26,"c":33,"k":5},{"r":26,"c":34,"k":7},{"r":26,"c":35,"k":4},
{"r":27,"c":0,"k":1},{"r":27,"c":1,"k":1},{"r":27,"c":2,"k":1},{"r":27,"c":3,"k":1},{"r":27,"c":4,"k":5},{"r":27,"c":5,"k":6},{"r":27,"c":6,"k":2},{"r":27,"c":7,"k":2},{"r":27,"c":8,"k":2},{"r":27,"c":9,"k":3},{"r":27,"c":10,"k":3},{"r":27,"c":11,"k":2},{"r":27,"c":12,"k":3},{"r":27,"c":13,"k":2},{"r":27,"c":14,"k":2},{"r":27,"c":15,"k":2},{"r":27,"c":16,"k":2},{"r":27,"c":17,"k":2},{"r":27,"c":18,"k":2},{"r":27,"c":19,"k":2},{"r":27,"c":20,"k":2},{"r":27,"c":21,"k":6},{"r":27,"c":22,"k":3},{"r":27,"c":23,"k":3},{"r":27,"c":24,"k":6},{"r":27,"c":25,"k":6},{"r":27,"c":26,"k":3},{"r":27,"c":27,"k":3},{"r":27,"c":28,"k":3},{"r":27,"c":29,"k":6},{"r":27,"c":30,"k":4},{"r":27,"c":31,"k":4},{"r":27,"c":32,"k":5},{"r":27,"c":33,"k":4},{"r":27,"c":34,"k":5},{"r":27,"c":35,"k":7},
{"r":28,"c":0,"k":1},{"r":28,"c":1,"k":1},{"r":28,"c":2,"k":1},{"r":28,"c":3,"k":1},{"r":28,"c":4,"k":2},{"r":28,"c":5,"k":6},{"r":28,"c":6,"k":2},{"r":28,"c":7,"k":2},{"r":28,"c":8,"k":2},{"r":28,"c":9,"k":2},{"r":28,"c":10,"k":2},{"r":28,"c":11,"k":2},{"r":28,"c":12,"k":3},{"r":28,"c":13,"k":2},{"r":28,"c":14,"k":2},{"r":28,"c":15,"k":2},{"r":28,"c":16,"k":2},{"r":28,"c":17,"k":2},{"r":28,"c":18,"k":2},{"r":28,"c":19,"k":2},{"r":28,"c":20,"k":2},{"r":28,"c":21,"k":6},{"r":28,"c":22,"k":3},{"r":28,"c":23,"k":3},{"r":28,"c":24,"k":4},{"r":28,"c":25,"k":5},{"r":28,"c":26,"k":3},{"r":28,"c":27,"k":3},{"r":28,"c":28,"k":4},{"r":28,"c":29,"k":6},{"r":28,"c":30,"k":4},{"r":28,"c":31,"k":4},{"r":28,"c":32,"k":2},{"r":28,"c":33,"k":5},{"r":28,"c":34,"k":5},{"r":28,"c":35,"k":7},
{"r":29,"c":0,"k":1},{"r":29,"c":1,"k":1},{"r":29,"c":2,"k":1},{"r":29,"c":3,"k":1},{"r":29,"c":4,"k":2},{"r":29,"c":5,"k":6},{"r":29,"c":6,"k":2},{"r":29,"c":7,"k":2},{"r":29,"c":8,"k":2},{"r":29,"c":9,"k":3},{"r":29,"c":10,"k":3},{"r":29,"c":11,"k":2},{"r":29,"c":12,"k":3},{"r":29,"c":13,"k":2},{"r":29,"c":14,"k":2},{"r":29,"c":15,"k":2},{"r":29,"c":16,"k":2},{"r":29,"c":17,"k":2},{"r":29,"c":18,"k":2},{"r":29,"c":19,"k":2},{"r":29,"c":20,"k":2},{"r":29,"c":21,"k":6},{"r":29,"c":22,"k":6},{"r":29,"c":23,"k":3},{"r":29,"c":24,"k":3},{"r":29,"c":25,"k":3},{"r":29,"c":26,"k":3},{"r":29,"c":27,"k":3},{"r":29,"c":28,"k":4},{"r":29,"c":29,"k":5},{"r":29,"c":30,"k":4},{"r":29,"c":31,"k":4},{"r":29,"c":32,"k":7},{"r":29,"c":33,"k":5},{"r":29,"c":34,"k":7},{"r":29,"c":35,"k":7},
{"r":30,"c":0,"k":1},{"r":30,"c":1,"k":1},{"r":30,"c":2,"k":1},{"r":30,"c":3,"k":1},{"r":30,"c":4,"k":2},{"r":30,"c":5,"k":3},{"r":30,"c":6,"k":2},{"r":30,"c":7,"k":3},{"r":30,"c":8,"k":2},{"r":30,"c":9,"k":3},{"r":30,"c":10,"k":3},{"r":30,"c":11,"k":2},{"r":30,"c":12,"k":3},{"r":30,"c":13,"k":2},{"r":30,"c":14,"k":2},{"r":30,"c":15,"k":2},{"r":30,"c":16,"k":2},{"r":30,"c":17,"k":2},{"r":30,"c":18,"k":2},{"r":30,"c":19,"k":2},{"r":30,"c":20,"k":2},{"r":30,"c":21,"k":4},{"r":30,"c":22,"k":3},{"r":30,"c":23,"k":3},{"r":30,"c":24,"k":3},{"r":30,"c":25,"k":4},{"r":30,"c":26,"k":3},{"r":30,"c":27,"k":3},{"r":30,"c":28,"k":4},{"r":30,"c":29,"k":4},{"r":30,"c":30,"k":5},{"r":30,"c":31,"k":5},{"r":30,"c":32,"k":6},{"r":30,"c":33,"k":5},{"r":30,"c":34,"k":5},{"r":30,"c":35,"k":7},
{"r":31,"c":0,"k":1},{"r":31,"c":1,"k":1},{"r":31,"c":2,"k":1},{"r":31,"c":3,"k":1},{"r":31,"c":4,"k":2},{"r":31,"c":5,"k":4},{"r":31,"c":6,"k":2},{"r":31,"c":7,"k":3},{"r":31,"c":8,"k":2},{"r":31,"c":9,"k":3},{"r":31,"c":10,"k":3},{"r":31,"c":11,"k":2},{"r":31,"c":12,"k":3},{"r":31,"c":13,"k":2},{"r":31,"c":14,"k":2},{"r":31,"c":15,"k":2},{"r":31,"c":16,"k":2},{"r":31,"c":17,"k":2},{"r":31,"c":18,"k":2},{"r":31,"c":19,"k":2},{"r":31,"c":20,"k":2},{"r":31,"c":21,"k":6},{"r":31,"c":22,"k":3},{"r":31,"c":23,"k":3},{"r":31,"c":24,"k":3},{"r":31,"c":25,"k":3},{"r":31,"c":26,"k":3},{"r":31,"c":27,"k":3},{"r":31,"c":28,"k":3},{"r":31,"c":29,"k":3},{"r":31,"c":30,"k":4},{"r":31,"c":31,"k":4},{"r":31,"c":32,"k":7},{"r":31,"c":33,"k":3},{"r":31,"c":34,"k":5},{"r":31,"c":35,"k":7},
{"r":32,"c":0,"k":1},{"r":32,"c":1,"k":1},{"r":32,"c":2,"k":1},{"r":32,"c":3,"k":1},{"r":32,"c":4,"k":2},{"r":32,"c":5,"k":7},{"r":32,"c":6,"k":2},{"r":32,"c":7,"k":2},{"r":32,"c":8,"k":2},{"r":32,"c":9,"k":3},{"r":32,"c":10,"k":3},{"r":32,"c":11,"k":2},{"r":32,"c":12,"k":3},{"r":32,"c":13,"k":2},{"r":32,"c":14,"k":2},{"r":32,"c":15,"k":2},{"r":32,"c":16,"k":2},{"r":32,"c":17,"k":2},{"r":32,"c":18,"k":2},{"r":32,"c":19,"k":2},{"r":32,"c":20,"k":2},{"r":32,"c":21,"k":3},{"r":32,"c":22,"k":3},{"r":32,"c":23,"k":3},{"r":32,"c":24,"k":3},{"r":32,"c":25,"k":3},{"r":32,"c":26,"k":3},{"r":32,"c":27,"k":3},{"r":32,"c":28,"k":3},{"r":32,"c":29,"k":3},{"r":32,"c":30,"k":4},{"r":32,"c":31,"k":4},{"r":32,"c":32,"k":5},{"r":32,"c":33,"k":5},{"r":32,"c":34,"k":6},{"r":32,"c":35,"k":7},
{"r":33,"c":0,"k":1},{"r":33,"c":1,"k":1},{"r":33,"c":2,"k":1},{"r":33,"c":3,"k":1},{"r":33,"c":4,"k":2},{"r":33,"c":5,"k":6},{"r":33,"c":6,"k":2},{"r":33,"c":7,"k":2},{"r":33,"c":8,"k":2},{"r":33,"c":9,"k":2},{"r":33,"c":10,"k":2},{"r":33,"c":11,"k":2},{"r":33,"c":12,"k":2},{"r":33,"c":13,"k":2},{"r":33,"c":14,"k":2},{"r":33,"c":15,"k":2},{"r":33,"c":16,"k":2},{"r":33,"c":17,"k":2},{"r":33,"c":18,"k":2},{"r":33,"c":19,"k":2},{"r":33,"c":20,"k":2},{"r":33,"c":21,"k":5},{"r":33,"c":22,"k":3},{"r":33,"c":23,"k":3},{"r":33,"c":24,"k":3},{"r":33,"c":25,"k":3},{"r":33,"c":26,"k":3},{"r":33,"c":27,"k":3},{"r":33,"c":28,"k":3},{"r":33,"c":29,"k":3},{"r":33,"c":30,"k":4},{"r":33,"c":31,"k":4},{"r":33,"c":32,"k":5},{"r":33,"c":33,"k":5},{"r":33,"c":34,"k":3},{"r":33,"c":35,"k":7},
{"r":34,"c":0,"k":1},{"r":34,"c":1,"k":3},{"r":34,"c":2,"k":1},{"r":34,"c":3,"k":1},{"r":34,"c":4,"k":2},{"r":34,"c":5,"k":2},{"r":34,"c":6,"k":2},{"r":34,"c":7,"k":2},{"r":34,"c":8,"k":2},{"r":34,"c":9,"k":2},{"r":34,"c":10,"k":3},{"r":34,"c":11,"k":2},{"r":34,"c":12,"k":2},{"r":34,"c":13,"k":2},{"r":34,"c":14,"k":2},{"r":34,"c":15,"k":2},{"r":34,"c":16,"k":2},{"r":34,"c":17,"k":2},{"r":34,"c":18,"k":2},{"r":34,"c":19,"k":2},{"r":34,"c":20,"k":2},{"r":34,"c":21,"k":6},{"r":34,"c":22,"k":3},{"r":34,"c":23,"k":3},{"r":34,"c":24,"k":3},{"r":34,"c":25,"k":5},{"r":34,"c":26,"k":3},{"r":34,"c":27,"k":3},{"r":34,"c":28,"k":6},{"r":34,"c":29,"k":6},{"r":34,"c":30,"k":4},{"r":34,"c":31,"k":4},{"r":34,"c":32,"k":2},{"r":34,"c":33,"k":5},{"r":34,"c":34,"k":6},{"r":34,"c":35,"k":7},
{"r":35,"c":0,"k":1},{"r":35,"c":1,"k":1},{"r":35,"c":2,"k":1},{"r":35,"c":3,"k":1},{"r":35,"c":4,"k":2},{"r":35,"c":5,"k":2},{"r":35,"c":6,"k":2},{"r":35,"c":7,"k":2},{"r":35,"c":8,"k":2},{"r":35,"c":9,"k":2},{"r":35,"c":10,"k":2},{"r":35,"c":11,"k":2},{"r":35,"c":12,"k":2},{"r":35,"c":13,"k":2},{"r":35,"c":14,"k":2},{"r":35,"c":15,"k":2},{"r":35,"c":16,"k":2},{"r":35,"c":17,"k":2},{"r":35,"c":18,"k":2},{"r":35,"c":19,"k":2},{"r":35,"c":20,"k":2},{"r":35,"c":21,"k":6},{"r":35,"c":22,"k":3},{"r":35,"c":23,"k":3},{"r":35,"c":24,"k":3},{"r":35,"c":25,"k":3},{"r":35,"c":26,"k":3},{"r":35,"c":27,"k":3},{"r":35,"c":28,"k":3},{"r":35,"c":29,"k":6},{"r":35,"c":30,"k":5},{"r":35,"c":31,"k":4},{"r":35,"c":32,"k":3},{"r":35,"c":33,"k":5},{"r":35,"c":34,"k":5},{"r":35,"c":35,"k":7},
{"r":36,"c":0,"k":1},{"r":36,"c":1,"k":1},{"r":36,"c":2,"k":1},{"r":36,"c":3,"k":1},{"r":36,"c":4,"k":2},{"r":36,"c":5,"k":6},{"r":36,"c":6,"k":2},{"r":36,"c":7,"k":6},{"r":36,"c":8,"k":2},{"r":36,"c":9,"k":2},{"r":36,"c":10,"k":5},{"r":36,"c":11,"k":2},{"r":36,"c":12,"k":2},{"r":36,"c":13,"k":2},{"r":36,"c":14,"k":2},{"r":36,"c":15,"k":2},{"r":36,"c":16,"k":2},{"r":36,"c":17,"k":2},{"r":36,"c":18,"k":2},{"r":36,"c":19,"k":2},{"r":36,"c":20,"k":2},{"r":36,"c":21,"k":3},{"r":36,"c":22,"k":2},{"r":36,"c":23,"k":3},{"r":36,"c":24,"k":3},{"r":36,"c":25,"k":6},{"r":36,"c":26,"k":3},{"r":36,"c":27,"k":3},{"r":36,"c":28,"k":3},{"r":36,"c":29,"k":3},{"r":36,"c":30,"k":4},{"r":36,"c":31,"k":4},{"r":36,"c":32,"k":5},{"r":36,"c":33,"k":5},{"r":36,"c":34,"k":6},{"r":36,"c":35,"k":7},
{"r":37,"c":0,"k":1},{"r":37,"c":1,"k":1},{"r":37,"c":2,"k":1},{"r":37,"c":3,"k":1},{"r":37,"c":4,"k":2},{"r":37,"c":5,"k":2},{"r":37,"c":6,"k":2},{"r":37,"c":7,"k":7},{"r":37,"c":8,"k":2},{"r":37,"c":9,"k":2},{"r":37,"c":10,"k":2},{"r":37,"c":11,"k":2},{"r":37,"c":12,"k":2},{"r":37,"c":13,"k":2},{"r":37,"c":14,"k":2},{"r":37,"c":15,"k":2},{"r":37,"c":16,"k":2},{"r":37,"c":17,"k":2},{"r":37,"c":18,"k":2},{"r":37,"c":19,"k":2},{"r":37,"c":20,"k":2},{"r":37,"c":21,"k":3},{"r":37,"c":22,"k":2},{"r":37,"c":23,"k":3},{"r":37,"c":24,"k":3},{"r":37,"c":25,"k":3},{"r":37,"c":26,"k":3},{"r":37,"c":27,"k":3},{"r":37,"c":28,"k":3},{"r":37,"c":29,"k":3},{"r":37,"c":30,"k":4},{"r":37,"c":31,"k":5},{"r":37,"c":32,"k":2},{"r":37,"c":33,"k":5},{"r":37,"c":34,"k":6},{"r":37,"c":35,"k":7},
{"r":38,"c":0,"k":1},{"r":38,"c":1,"k":1},{"r":38,"c":2,"k":1},{"r":38,"c":3,"k":1},{"r":38,"c":4,"k":2},{"r":38,"c":5,"k":6},{"r":38,"c":6,"k":2},{"r":38,"c":7,"k":2},{"r":38,"c":8,"k":2},{"r":38,"c":9,"k":2},{"r":38,"c":10,"k":3},{"r":38,"c":11,"k":2},{"r":38,"c":12,"k":2},{"r":38,"c":13,"k":6},{"r":38,"c":14,"k":2},{"r":38,"c":15,"k":2},{"r":38,"c":16,"k":2},{"r":38,"c":17,"k":2},{"r":38,"c":18,"k":2},{"r":38,"c":19,"k":2},{"r":38,"c":20,"k":2},{"r":38,"c":21,"k":4},{"r":38,"c":22,"k":3},{"r":38,"c":23,"k":3},{"r":38,"c":24,"k":6},{"r":38,"c":25,"k":3},{"r":38,"c":26,"k":3},{"r":38,"c":27,"k":3},{"r":38,"c":28,"k":3},{"r":38,"c":29,"k":3},{"r":38,"c":30,"k":4},{"r":38,"c":31,"k":6},{"r":38,"c":32,"k":2},{"r":38,"c":33,"k":5},{"r":38,"c":34,"k":5},{"r":38,"c":35,"k":7},
{"r":39,"c":0,"k":1},{"r":39,"c":1,"k":1},{"r":39,"c":2,"k":1},{"r":39,"c":3,"k":1},{"r":39,"c":4,"k":2},{"r":39,"c":5,"k":2},{"r":39,"c":6,"k":2},{"r":39,"c":7,"k":2},{"r":39,"c":8,"k":2},{"r":39,"c":9,"k":2},{"r":39,"c":10,"k":2},{"r":39,"c":11,"k":2},{"r":39,"c":12,"k":2},{"r":39,"c":13,"k":6},{"r":39,"c":14,"k":2},{"r":39,"c":15,"k":2},{"r":39,"c":16,"k":2},{"r":39,"c":17,"k":2},{"r":39,"c":18,"k":2},{"r":39,"c":19,"k":2},{"r":39,"c":20,"k":2},{"r":39,"c":21,"k":3},{"r":39,"c":22,"k":3},{"r":39,"c":23,"k":3},{"r":39,"c":24,"k":6},{"r":39,"c":25,"k":3},{"r":39,"c":26,"k":3},{"r":39,"c":27,"k":3},{"r":39,"c":28,"k":3},{"r":39,"c":29,"k":3},{"r":39,"c":30,"k":4},{"r":39,"c":31,"k":4},{"r":39,"c":32,"k":3},{"r":39,"c":33,"k":5},{"r":39,"c":34,"k":5},{"r":39,"c":35,"k":7},
{"r":40,"c":0,"k":1},{"r":40,"c":1,"k":1},{"r":40,"c":2,"k":1},{"r":40,"c":3,"k":1},{"r":40,"c":4,"k":2},{"r":40,"c":5,"k":6},{"r":40,"c":6,"k":2},{"r":40,"c":7,"k":2},{"r":40,"c":8,"k":2},{"r":40,"c":9,"k":2},{"r":40,"c":10,"k":2},{"r":40,"c":11,"k":2},{"r":40,"c":12,"k":2},{"r":40,"c":13,"k":2},{"r":40,"c":14,"k":2},{"r":40,"c":15,"k":2},{"r":40,"c":16,"k":2},{"r":40,"c":17,"k":2},{"r":40,"c":18,"k":2},{"r":40,"c":19,"k":2},{"r":40,"c":20,"k":2},{"r":40,"c":21,"k":3},{"r":40,"c":22,"k":3},{"r":40,"c":23,"k":3},{"r":40,"c":24,"k":6},{"r":40,"c":25,"k":3},{"r":40,"c":26,"k":3},{"r":40,"c":27,"k":3},{"r":40,"c":28,"k":3},{"r":40,"c":29,"k":3},{"r":40,"c":30,"k":4},{"r":40,"c":31,"k":4},{"r":40,"c":32,"k":2},{"r":40,"c":33,"k":5},{"r":40,"c":34,"k":3},{"r":40,"c":35,"k":7},
{"r":41,"c":0,"k":1},{"r":41,"c":1,"k":1},{"r":41,"c":2,"k":1},{"r":41,"c":3,"k":1},{"r":41,"c":4,"k":2},{"r":41,"c":5,"k":3},{"r":41,"c":6,"k":2},{"r":41,"c":7,"k":2},{"r":41,"c":8,"k":2},{"r":41,"c":9,"k":2},{"r":41,"c":10,"k":2},{"r":41,"c":11,"k":2},{"r":41,"c":12,"k":2},{"r":41,"c":13,"k":3},{"r":41,"c":14,"k":2},{"r":41,"c":15,"k":2},{"r":41,"c":16,"k":2},{"r":41,"c":17,"k":2},{"r":41,"c":18,"k":2},{"r":41,"c":19,"k":2},{"r":41,"c":20,"k":2},{"r":41,"c":21,"k":6},{"r":41,"c":22,"k":6},{"r":41,"c":23,"k":6},{"r":41,"c":24,"k":3},{"r":41,"c":25,"k":3},{"r":41,"c":26,"k":3},{"r":41,"c":27,"k":3},{"r":41,"c":28,"k":3},{"r":41,"c":29,"k":3},{"r":41,"c":30,"k":4},{"r":41,"c":31,"k":4},{"r":41,"c":32,"k":5},{"r":41,"c":33,"k":5},{"r":41,"c":34,"k":5},{"r":41,"c":35,"k":7},
{"r":42,"c":0,"k":1},{"r":42,"c":1,"k":1},{"r":42,"c":2,"k":1},{"r":42,"c":3,"k":1},{"r":42,"c":4,"k":2},{"r":42,"c":5,"k":3},{"r":42,"c":6,"k":2},{"r":42,"c":7,"k":2},{"r":42,"c":8,"k":2},{"r":42,"c":9,"k":2},{"r":42,"c":10,"k":2},{"r":42,"c":11,"k":2},{"r":42,"c":12,"k":2},{"r":42,"c":13,"k":2},{"r":42,"c":14,"k":2},{"r":42,"c":15,"k":2},{"r":42,"c":16,"k":2},{"r":42,"c":17,"k":2},{"r":42,"c":18,"k":2},{"r":42,"c":19,"k":2},{"r":42,"c":20,"k":2},{"r":42,"c":21,"k":3},{"r":42,"c":22,"k":6},{"r":42,"c":23,"k":6},{"r":42,"c":24,"k":6},{"r":42,"c":25,"k":3},{"r":42,"c":26,"k":3},{"r":42,"c":27,"k":3},{"r":42,"c":28,"k":3},{"r":42,"c":29,"k":3},{"r":42,"c":30,"k":4},{"r":42,"c":31,"k":4},{"r":42,"c":32,"k":5},{"r":42,"c":33,"k":5},{"r":42,"c":34,"k":5},{"r":42,"c":35,"k":7},
{"r":43,"c":0,"k":1},{"r":43,"c":1,"k":1},{"r":43,"c":2,"k":1},{"r":43,"c":3,"k":1},{"r":43,"c":4,"k":2},{"r":43,"c":5,"k":2},{"r":43,"c":6,"k":2},{"r":43,"c":7,"k":2},{"r":43,"c":8,"k":2},{"r":43,"c":9,"k":2},{"r":43,"c":10,"k":2},{"r":43,"c":11,"k":2},{"r":43,"c":12,"k":2},{"r":43,"c":13,"k":2},{"r":43,"c":14,"k":2},{"r":43,"c":15,"k":2},{"r":43,"c":16,"k":2},{"r":43,"c":17,"k":2},{"r":43,"c":18,"k":2},{"r":43,"c":19,"k":2},{"r":43,"c":20,"k":2},{"r":43,"c":21,"k":3},{"r":43,"c":22,"k":3},{"r":43,"c":23,"k":6},{"r":43,"c":24,"k":6},{"r":43,"c":25,"k":6},{"r":43,"c":26,"k":3},{"r":43,"c":27,"k":3},{"r":43,"c":28,"k":3},{"r":43,"c":29,"k":3},{"r":43,"c":30,"k":4},{"r":43,"c":31,"k":4},{"r":43,"c":32,"k":2},{"r":43,"c":33,"k":5},{"r":43,"c":34,"k":5},{"r":43,"c":35,"k":7},
{"r":44,"c":0,"k":1},{"r":44,"c":1,"k":1},{"r":44,"c":2,"k":1},{"r":44,"c":3,"k":1},{"r":44,"c":4,"k":2},{"r":44,"c":5,"k":2},{"r":44,"c":6,"k":2},{"r":44,"c":7,"k":2},{"r":44,"c":8,"k":2},{"r":44,"c":9,"k":2},{"r":44,"c":10,"k":2},{"r":44,"c":11,"k":2},{"r":44,"c":12,"k":2},{"r":44,"c":13,"k":2},{"r":44,"c":14,"k":2},{"r":44,"c":15,"k":2},{"r":44,"c":16,"k":2},{"r":44,"c":17,"k":2},{"r":44,"c":18,"k":2},{"r":44,"c":19,"k":2},{"r":44,"c":20,"k":2},{"r":44,"c":21,"k":3},{"r":44,"c":22,"k":3},{"r":44,"c":23,"k":3},{"r":44,"c":24,"k":5},{"r":44,"c":25,"k":6},{"r":44,"c":26,"k":3},{"r":44,"c":27,"k":3},{"r":44,"c":28,"k":3},{"r":44,"c":29,"k":3},{"r":44,"c":30,"k":4},{"r":44,"c":31,"k":4},{"r":44,"c":32,"k":6},{"r":44,"c":33,"k":4},{"r":44,"c":34,"k":3},{"r":44,"c":35,"k":7},
{"r":45,"c":0,"k":1},{"r":45,"c":1,"k":1},{"r":45,"c":2,"k":1},{"r":45,"c":3,"k":1},{"r":45,"c":4,"k":2},{"r":45,"c":5,"k":2},{"r":45,"c":6,"k":4},{"r":45,"c":7,"k":2},{"r":45,"c":8,"k":2},{"r":45,"c":9,"k":2},{"r":45,"c":10,"k":2},{"r":45,"c":11,"k":2},{"r":45,"c":12,"k":2},{"r":45,"c":13,"k":2},{"r":45,"c":14,"k":2},{"r":45,"c":15,"k":2},{"r":45,"c":16,"k":2},{"r":45,"c":17,"k":2},{"r":45,"c":18,"k":2},{"r":45,"c":19,"k":2},{"r":45,"c":20,"k":2},{"r":45,"c":21,"k":3},{"r":45,"c":22,"k":3},{"r":45,"c":23,"k":3},{"r":45,"c":24,"k":3},{"r":45,"c":25,"k":4},{"r":45,"c":26,"k":3},{"r":45,"c":27,"k":3},{"r":45,"c":28,"k":3},{"r":45,"c":29,"k":3},{"r":45,"c":30,"k":4},{"r":45,"c":31,"k":4},{"r":45,"c":32,"k":5},{"r":45,"c":33,"k":5},{"r":45,"c":34,"k":6},{"r":45,"c":35,"k":7},
{"r":46,"c":0,"k":1},{"r":46,"c":1,"k":1},{"r":46,"c":2,"k":1},{"r":46,"c":3,"k":1},{"r":46,"c":4,"k":2},{"r":46,"c":5,"k":4},{"r":46,"c":6,"k":2},{"r":46,"c":7,"k":2},{"r":46,"c":8,"k":2},{"r":46,"c":9,"k":2},{"r":46,"c":10,"k":2},{"r":46,"c":11,"k":2},{"r":46,"c":12,"k":2},{"r":46,"c":13,"k":2},{"r":46,"c":14,"k":2},{"r":46,"c":15,"k":2},{"r":46,"c":16,"k":2},{"r":46,"c":17,"k":2},{"r":46,"c":18,"k":2},{"r":46,"c":19,"k":2},{"r":46,"c":20,"k":2},{"r":46,"c":21,"k":3},{"r":46,"c":22,"k":2},{"r":46,"c":23,"k":3},{"r":46,"c":24,"k":3},{"r":46,"c":25,"k":3},{"r":46,"c":26,"k":3},{"r":46,"c":27,"k":3},{"r":46,"c":28,"k":3},{"r":46,"c":29,"k":3},{"r":46,"c":30,"k":4},{"r":46,"c":31,"k":4},{"r":46,"c":32,"k":6},{"r":46,"c":33,"k":5},{"r":46,"c":34,"k":5},{"r":46,"c":35,"k":7},
{"r":47,"c":0,"k":1},{"r":47,"c":1,"k":1},{"r":47,"c":2,"k":1},{"r":47,"c":3,"k":1},{"r":47,"c":4,"k":2},{"r":47,"c":5,"k":2},{"r":47,"c":6,"k":2},{"r":47,"c":7,"k":2},{"r":47,"c":8,"k":2},{"r":47,"c":9,"k":2},{"r":47,"c":10,"k":2},{"r":47,"c":11,"k":2},{"r":47,"c":12,"k":2},{"r":47,"c":13,"k":2},{"r":47,"c":14,"k":2},{"r":47,"c":15,"k":2},{"r":47,"c":16,"k":2},{"r":47,"c":17,"k":2},{"r":47,"c":18,"k":2},{"r":47,"c":19,"k":2},{"r":47,"c":20,"k":2},{"r":47,"c":21,"k":3},{"r":47,"c":22,"k":2},{"r":47,"c":23,"k":2},{"r":47,"c":24,"k":6},{"r":47,"c":25,"k":3},{"r":47,"c":26,"k":3},{"r":47,"c":27,"k":3},{"r":47,"c":28,"k":3},{"r":47,"c":29,"k":3},{"r":47,"c":30,"k":4},{"r":47,"c":31,"k":4},{"r":47,"c":32,"k":4},{"r":47,"c":33,"k":4},{"r":47,"c":34,"k":5},{"r":47,"c":35,"k":7},
{"r":48,"c":0,"k":1},{"r":48,"c":1,"k":5},{"r":48,"c":2,"k":1},{"r":48,"c":3,"k":1},{"r":48,"c":4,"k":2},{"r":48,"c":5,"k":7},{"r":48,"c":6,"k":2},{"r":48,"c":7,"k":2},{"r":48,"c":8,"k":7},{"r":48,"c":9,"k":2},{"r":48,"c":10,"k":2},{"r":48,"c":11,"k":2},{"r":48,"c":12,"k":2},{"r":48,"c":13,"k":2},{"r":48,"c":14,"k":2},{"r":48,"c":15,"k":2},{"r":48,"c":16,"k":2},{"r":48,"c":17,"k":2},{"r":48,"c":18,"k":2},{"r":48,"c":19,"k":2},{"r":48,"c":20,"k":2},{"r":48,"c":21,"k":6},{"r":48,"c":22,"k":3},{"r":48,"c":23,"k":5},{"r":48,"c":24,"k":3},{"r":48,"c":25,"k":3},{"r":48,"c":26,"k":3},{"r":48,"c":27,"k":3},{"r":48,"c":28,"k":3},{"r":48,"c":29,"k":3},{"r":48,"c":30,"k":4},{"r":48,"c":31,"k":4},{"r":48,"c":32,"k":2},{"r":48,"c":33,"k":5},{"r":48,"c":34,"k":6},{"r":48,"c":35,"k":7},
{"r":49,"c":0,"k":1},{"r":49,"c":1,"k":1},{"r":49,"c":2,"k":1},{"r":49,"c":3,"k":1},{"r":49,"c":4,"k":2},{"r":49,"c":5,"k":6},{"r":49,"c":6,"k":2},{"r":49,"c":7,"k":2},{"r":49,"c":8,"k":6},{"r":49,"c":9,"k":2},{"r":49,"c":10,"k":2},{"r":49,"c":11,"k":2},{"r":49,"c":12,"k":2},{"r":49,"c":13,"k":2},{"r":49,"c":14,"k":2},{"r":49,"c":15,"k":2},{"r":49,"c":16,"k":2},{"r":49,"c":17,"k":2},{"r":49,"c":18,"k":2},{"r":49,"c":19,"k":2},{"r":49,"c":20,"k":2},{"r":49,"c":21,"k":3},{"r":49,"c":22,"k":2},{"r":49,"c":23,"k":2},{"r":49,"c":24,"k":7},{"r":49,"c":25,"k":3},{"r":49,"c":26,"k":3},{"r":49,"c":27,"k":3},{"r":49,"c":28,"k":3},{"r":49,"c":29,"k":3},{"r":49,"c":30,"k":4},{"r":49,"c":31,"k":4},{"r":49,"c":32,"k":2},{"r":49,"c":33,"k":5},{"r":49,"c":34,"k":4},{"r":49,"c":35,"k":2}
]
},
"layer": [
{
"data": {"name": "prob"},
"mark": {"type": "rect", "strokeWidth": 1},
"encoding": {
"x": {"field": "c", "type": "ordinal", "scale": {"domain": [0,1,2,3,4,5,6,7,8,9,10,11,12,13,14,15,16,17,18,19,20,21,22,23,24,25,26,27,28,29,30,31,32,33,34,35], "paddingInner": 0, "paddingOuter": 0}, "axis": null},
"y": {"field": "p", "type": "nominal", "scale": {"domain": ["p1","p2","p3","p4","p5","p6","p7","Class"], "range": [0, 114], "paddingInner": 0, "paddingOuter": 0}, "axis": null},
"color": {"field": "v", "type": "quantitative", "scale": {"domain": [0, 1], "range": ["#FFFFFF", "#FF0000"], "interpolate": "lab"},
"legend": {"title": "Prob", "orient": "none", "legendX": 413, "legendY": 212, "direction": "vertical", "gradientLength": 55, "gradientThickness": 11, "gradientStrokeWidth": 0, "values": [0, 0.5, 1], "format": "~g", "titleFontSize": 10, "titleFontWeight": "bold", "titleColor": "black", "titlePadding": 4, "labelFontSize": 10, "labelColor": "black", "labelOffset": 3, "labelFont": "Liberation Sans", "titleFont": "Liberation Sans"}},
"stroke": {"field": "v", "type": "quantitative", "scale": {"domain": [0, 1], "range": ["#FFFFFF", "#FF0000"], "interpolate": "lab"}, "legend": null}
}
},
{
"data": {"name": "anno"},
"mark": {"type": "rect", "strokeWidth": 1},
"encoding": {
"x": {"field": "c", "type": "ordinal", "scale": {"domain": [0,1,2,3,4,5,6,7,8,9,10,11,12,13,14,15,16,17,18,19,20,21,22,23,24,25,26,27,28,29,30,31,32,33,34,35], "paddingInner": 0, "paddingOuter": 0}, "axis": null},
"y": {"datum": "Class", "type": "nominal", "scale": {"domain": ["p1","p2","p3","p4","p5","p6","p7","Class"], "range": [0, 114], "paddingInner": 0, "paddingOuter": 0}, "axis": null},
"fill": {"field": "k", "type": "nominal", "scale": {"domain": [1,2,3,4,5,6,7], "range": ["#66C2A5","#FC8D62","#8DA0CB","#E78AC3","#A6D854","#FFD92F","#E5C494"]},
"legend": {"title": "Class", "orient": "none", "legendX": 413, "legendY": 294, "values": [1,2,3,4,5,7], "symbolType": "square", "symbolSize": 128, "symbolStrokeWidth": 0, "symbolOpacity": 1, "rowPadding": 0, "titleFontSize": 10, "titleFontWeight": "bold", "titleColor": "black", "titlePadding": 5, "labelFontSize": 10, "labelColor": "black", "labelOffset": 4, "labelFont": "Liberation Sans", "titleFont": "Liberation Sans"}},
"stroke": {"field": "k", "type": "nominal", "scale": {"domain": [1,2,3,4,5,6,7], "range": ["#66C2A5","#FC8D62","#8DA0CB","#E78AC3","#A6D854","#FFD92F","#E5C494"]}, "legend": null}
}
},
{
"data": {"name": "grid"},
"mark": {"type": "rect", "strokeWidth": 1},
"encoding": {
"x": {"field": "c", "type": "ordinal", "scale": {"domain": [0,1,2,3,4,5,6,7,8,9,10,11,12,13,14,15,16,17,18,19,20,21,22,23,24,25,26,27,28,29,30,31,32,33,34,35], "paddingInner": 0, "paddingOuter": 0}, "axis": null},
"y": {"field": "r", "type": "ordinal", "scale": {"domain": [0,1,2,3,4,5,6,7,8,9,10,11,12,13,14,15,16,17,18,19,20,21,22,23,24,25,26,27,28,29,30,31,32,33,34,35,36,37,38,39,40,41,42,43,44,45,46,47,48,49], "range": [117, 475], "paddingInner": 0, "paddingOuter": 0}, "axis": null},
"fill": {"field": "k", "type": "nominal", "scale": {"domain": [1,2,3,4,5,6,7], "range": ["#66C2A5","#FC8D62","#8DA0CB","#E78AC3","#A6D854","#FFD92F","#E5C494"]},
"legend": {"title": "Class", "orient": "none", "legendX": 413, "legendY": 294, "values": [1,2,3,4,5,7], "symbolType": "square", "symbolSize": 128, "symbolStrokeWidth": 0, "symbolOpacity": 1, "rowPadding": 0, "titleFontSize": 10, "titleFontWeight": "bold", "titleColor": "black", "titlePadding": 5, "labelFontSize": 10, "labelColor": "black", "labelOffset": 4, "labelFont": "Liberation Sans", "titleFont": "Liberation Sans"}},
"stroke": {"field": "k", "type": "nominal", "scale": {"domain": [1,2,3,4,5,6,7], "range": ["#66C2A5","#FC8D62","#8DA0CB","#E78AC3","#A6D854","#FFD92F","#E5C494"]}, "legend": null}
}
},
{
"data": {"values": [{"p":"p1"},{"p":"p2"},{"p":"p3"},{"p":"p4"},{"p":"p5"},{"p":"p6"},{"p":"p7"},{"p":"Class"}]},
"mark": {"type": "text", "align": "left", "baseline": "middle", "fontSize": 11, "dx": 11, "color": "black", "font": "Liberation Sans"},
"encoding": {
"x": {"datum": 35, "type": "ordinal", "scale": {"domain": [0,1,2,3,4,5,6,7,8,9,10,11,12,13,14,15,16,17,18,19,20,21,22,23,24,25,26,27,28,29,30,31,32,33,34,35], "paddingInner": 0, "paddingOuter": 0}, "axis": null},
"y": {"field": "p", "type": "nominal", "scale": {"domain": ["p1","p2","p3","p4","p5","p6","p7","Class"], "range": [0, 114], "paddingInner": 0, "paddingOuter": 0}, "axis": null},
"text": {"field": "p"}
}
},
{
"data": {"values": [{"label": "top 1000 rows", "side": "50 x 1 random samplings"}]},
"mark": {"type": "rect", "color": "#7FC97F"},
"encoding": {
"x": {"datum": 0, "type": "quantitative", "scale": {"domain": [0, 1], "range": [-34, -6]}, "axis": null},
"x2": {"datum": 1},
"y": {"datum": 0, "type": "quantitative", "scale": {"domain": [0, 1], "range": [117, 475]}, "axis": null},
"y2": {"datum": 1}
}
},
{
"data": {"values": [{"label": "top 1000 rows", "side": "50 x 1 random samplings"}]},
"mark": {"type": "text", "angle": 270, "align": "center", "baseline": "middle", "fontSize": 10, "color": "black", "font": "Liberation Sans"},
"encoding": {
"x": {"datum": 0.5, "type": "quantitative", "scale": {"domain": [0, 1], "range": [-34, -6]}, "axis": null},
"y": {"datum": 0.5, "type": "quantitative", "scale": {"domain": [0, 1], "range": [117, 475]}, "axis": null},
"text": {"field": "label"}
}
},
{
"data": {"values": [{"label": "top 1000 rows", "side": "50 x 1 random samplings"}]},
"mark": {"type": "text", "angle": 270, "align": "center", "baseline": "middle", "fontSize": 13, "color": "black", "font": "Liberation Sans"},
"encoding": {
"x": {"datum": -0.45, "type": "quantitative", "scale": {"domain": [0, 1], "range": [-34, -6]}, "axis": null},
"y": {"datum": 0.31, "type": "quantitative", "scale": {"domain": [0, 1], "range": [117, 475]}, "axis": null},
"text": {"field": "side"}
}
}
],
"resolve": {"scale": {"x": "independent", "y": "independent"}}
}
